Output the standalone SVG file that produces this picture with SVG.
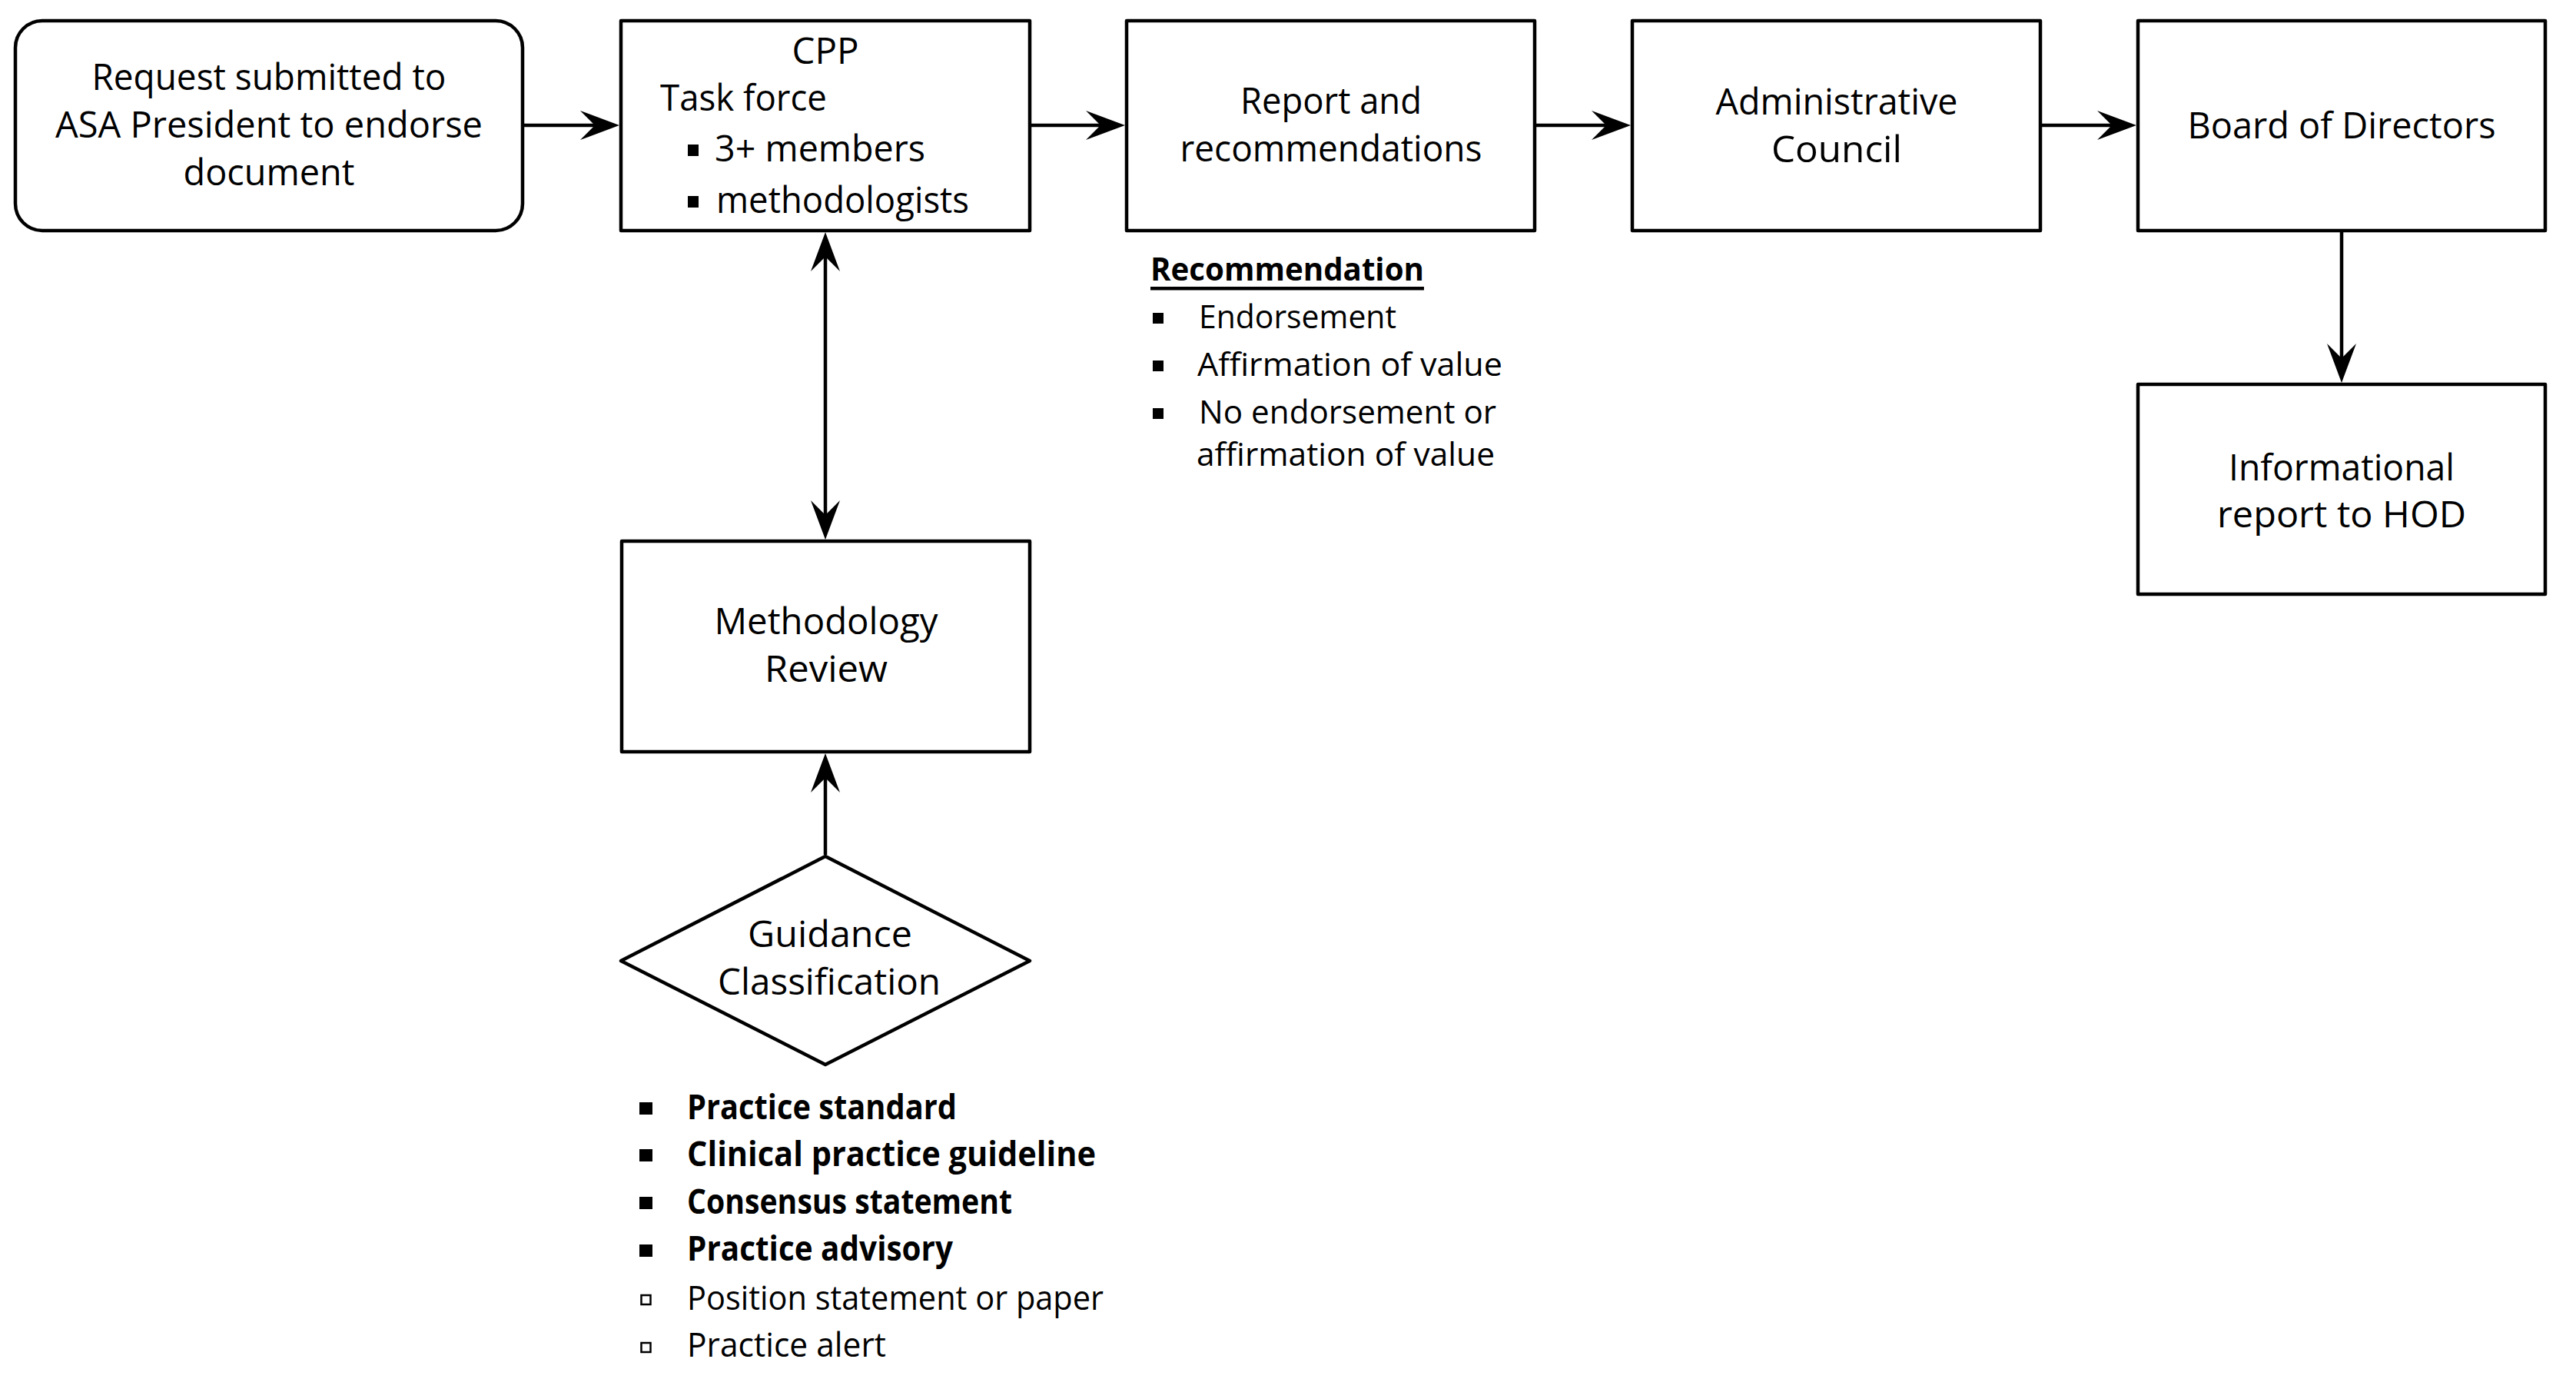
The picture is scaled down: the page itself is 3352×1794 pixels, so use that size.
<svg xmlns="http://www.w3.org/2000/svg" width="3352" height="1794" viewBox="0 0 3352 1794">
<style>
.box{fill:#fff;stroke:#000;stroke-width:4.5;stroke-linejoin:round}
.t{font-family:"Open Sans","Liberation Sans",sans-serif;font-size:47px;fill:#000}
.c{text-anchor:middle}
.s{font-size:42px}
.b{font-size:44px}
.bold{font-weight:bold}
.con{fill:none;stroke:#000;stroke-width:4.5}
</style>
<defs>
<marker id="ah" viewBox="0 0 52 40" refX="26" refY="20" markerWidth="52" markerHeight="40" markerUnits="userSpaceOnUse" orient="auto-start-reverse">
<path d="M0,1 L51,20 L0,39 L19,20 Z" fill="#000"/>
</marker>
</defs>
<rect width="3352" height="1794" fill="#fff"/>
<g id="connectors">
<line class="con" x1="682" y1="163" x2="781" y2="163" marker-end="url(#ah)"/>
<line class="con" x1="1342" y1="163" x2="1439" y2="163" marker-end="url(#ah)"/>
<line class="con" x1="1999" y1="163" x2="2097" y2="163" marker-end="url(#ah)"/>
<line class="con" x1="2657" y1="163" x2="2755" y2="163" marker-end="url(#ah)"/>
<line class="con" x1="3047" y1="302" x2="3047" y2="473" marker-end="url(#ah)"/>
<line class="con" x1="1074" y1="327" x2="1074" y2="677" marker-start="url(#ah)" marker-end="url(#ah)"/>
<line class="con" x1="1074" y1="1112" x2="1074" y2="1005" marker-end="url(#ah)"/>
</g>
<g id="request">
<rect class="box" x="20" y="27" width="660" height="273" rx="35" ry="35"/>
<text class="t c" x="350" y="117" textLength="461" lengthAdjust="spacingAndGlyphs">Request submitted to</text>
<text class="t c" x="350" y="179" textLength="556" lengthAdjust="spacingAndGlyphs">ASA President to endorse</text>
<text class="t c" x="350" y="241" textLength="223" lengthAdjust="spacingAndGlyphs">document</text>
</g>
<g id="cpp">
<rect class="box" x="808" y="27" width="532" height="273"/>
<text class="t c" x="1074" y="83" textLength="87" lengthAdjust="spacingAndGlyphs">CPP</text>
<text class="t" x="859" y="144" textLength="217" lengthAdjust="spacingAndGlyphs">Task force</text>
<rect x="895" y="188" width="14" height="15" fill="#000"/>
<text class="t" x="930" y="210" textLength="274" lengthAdjust="spacingAndGlyphs">3+ members</text>
<rect x="895" y="255" width="14" height="15" fill="#000"/>
<text class="t" x="932" y="277" textLength="329" lengthAdjust="spacingAndGlyphs">methodologists</text>
</g>
<g id="report">
<rect class="box" x="1466" y="27" width="531" height="273"/>
<text class="t c" x="1732" y="148" textLength="236" lengthAdjust="spacingAndGlyphs">Report and</text>
<text class="t c" x="1732" y="210" textLength="393" lengthAdjust="spacingAndGlyphs">recommendations</text>
</g>
<g id="admin">
<rect class="box" x="2124" y="27" width="531" height="273"/>
<text class="t c" x="2390" y="149" textLength="315" lengthAdjust="spacingAndGlyphs">Administrative</text>
<text class="t c" x="2390" y="211" textLength="170" lengthAdjust="spacingAndGlyphs">Council</text>
</g>
<g id="board">
<rect class="box" x="2782" y="27" width="530" height="273"/>
<text class="t c" x="3047" y="180" textLength="401" lengthAdjust="spacingAndGlyphs">Board of Directors</text>
</g>
<g id="info">
<rect class="box" x="2782" y="500" width="530" height="273"/>
<text class="t c" x="3047" y="625" textLength="294" lengthAdjust="spacingAndGlyphs">Informational</text>
<text class="t c" x="3047" y="686" textLength="324" lengthAdjust="spacingAndGlyphs">report to HOD</text>
</g>
<g id="methodology">
<rect class="box" x="809" y="704" width="531" height="274"/>
<text class="t c" x="1075" y="825" textLength="291" lengthAdjust="spacingAndGlyphs">Methodology</text>
<text class="t c" x="1075" y="887" textLength="160" lengthAdjust="spacingAndGlyphs">Review</text>
</g>
<g id="guidance">
<polygon class="box" points="1074,1114 1340,1250 1074,1385 808,1250"/>
<text class="t c" x="1080" y="1232" textLength="214" lengthAdjust="spacingAndGlyphs">Guidance</text>
<text class="t c" x="1079" y="1294" textLength="290" lengthAdjust="spacingAndGlyphs">Classification</text>
</g>
<g id="recommendation-list">
<text class="t s bold" x="1497" y="365" textLength="356" lengthAdjust="spacingAndGlyphs">Recommendation</text>
<rect x="1497" y="373" width="356" height="4.5" fill="#000"/>
<rect x="1500" y="407" width="14" height="14" fill="#000"/>
<text class="t s" x="1560" y="427" textLength="257" lengthAdjust="spacingAndGlyphs">Endorsement</text>
<rect x="1500" y="469" width="14" height="14" fill="#000"/>
<text class="t s" x="1558" y="489" textLength="397" lengthAdjust="spacingAndGlyphs">Affirmation of value</text>
<rect x="1500" y="531" width="14" height="14" fill="#000"/>
<text class="t s" x="1560" y="551" textLength="387" lengthAdjust="spacingAndGlyphs">No endorsement or</text>
<text class="t s" x="1557" y="606" textLength="388" lengthAdjust="spacingAndGlyphs">affirmation of value</text>
</g>
<g id="classification-list">
<rect x="832" y="1434" width="17" height="16" fill="#000"/>
<text class="t b bold" x="894" y="1456" textLength="351" lengthAdjust="spacingAndGlyphs">Practice standard</text>
<rect x="832" y="1495" width="17" height="16" fill="#000"/>
<text class="t b bold" x="894" y="1517" textLength="532" lengthAdjust="spacingAndGlyphs">Clinical practice guideline</text>
<rect x="832" y="1557" width="17" height="16" fill="#000"/>
<text class="t b bold" x="894" y="1579" textLength="423" lengthAdjust="spacingAndGlyphs">Consensus statement</text>
<rect x="832" y="1619" width="17" height="16" fill="#000"/>
<text class="t b bold" x="894" y="1640" textLength="346" lengthAdjust="spacingAndGlyphs">Practice advisory</text>
<rect x="834.5" y="1685" width="12" height="12" fill="#fff" stroke="#000" stroke-width="2.5"/>
<text class="t b" x="894" y="1704" textLength="542" lengthAdjust="spacingAndGlyphs">Position statement or paper</text>
<rect x="834.5" y="1747" width="12" height="12" fill="#fff" stroke="#000" stroke-width="2.5"/>
<text class="t b" x="894" y="1765" textLength="259" lengthAdjust="spacingAndGlyphs">Practice alert</text>
</g>
</svg>
